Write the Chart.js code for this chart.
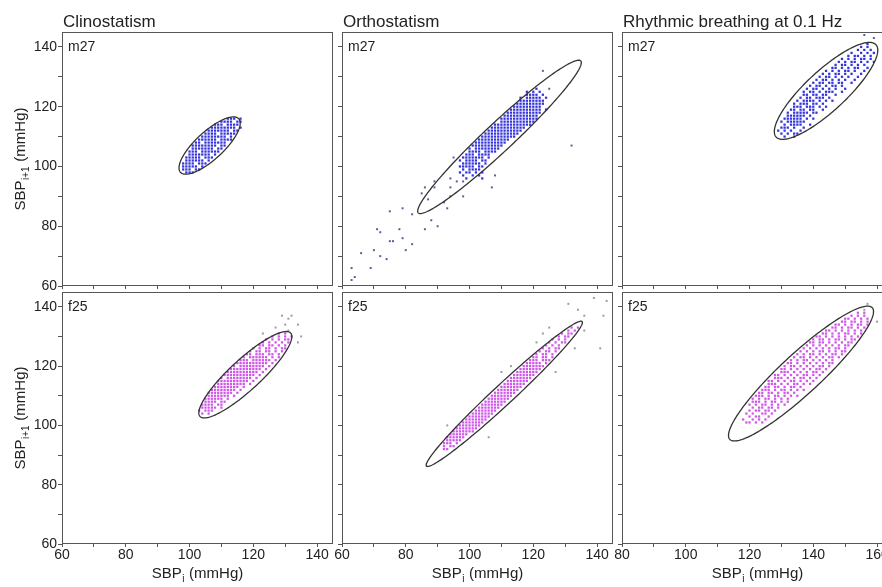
<!DOCTYPE html>
<html>
<head>
<meta charset="utf-8">
<script src="https://cdn.jsdelivr.net/npm/chart.js@4.4.1/dist/chart.umd.min.js"></script>
<style>
  html, body { margin: 0; padding: 0; background: #fff; }
  #figure { position: relative; width: 882px; height: 587px; overflow: hidden; }
  #figure canvas { position: absolute; }
</style>
</head>
<body>
<div id="figure"></div>
<script>
// Poincare plots, SBP(i+1) against SBP(i), two subjects, three conditions.
// Rows of points: [SBP(i+1), [SBP(i) values seen on that row]]

const columnTitles = ['Clinostatism', 'Orthostatism', 'Rhythmic breathing at 0.1 Hz'];
const subjects = ['m27', 'f25'];
const xMins = [60, 60, 80];
const xMaxs = [145, 145, 165];
const yMin = 60, yMax = 145;
const xTickLabels = [[60, 80, 100, 120, 140], [60, 80, 100, 120, 140], [80, 100, 120, 140, 160]];
const yTickLabels = [60, 80, 100, 120, 140];

// m27, clinostatism
const m27Clino = [
    [98, [99, 100, 101]],
    [99, [98, 99, 100, 102, 103]],
    [100, [98, 99, 100, 101, 102, 104]],
    [101, [98, 99, 100, 101, 103, 104, 105]],
    [102, [99, 100, 101, 102, 103, 104, 106]],
    [103, [99, 100, 101, 102, 103, 105, 106, 107]],
    [104, [100, 101, 102, 103, 104, 105, 106, 108]],
    [105, [100, 101, 102, 104, 105, 106, 107, 108, 109]],
    [106, [101, 102, 103, 104, 105, 106, 107, 109, 110]],
    [107, [101, 102, 103, 104, 105, 106, 107, 108, 110, 111]],
    [108, [102, 103, 105, 106, 107, 108, 109, 110, 111]],
    [109, [103, 104, 105, 106, 107, 108, 110, 111, 112, 113]],
    [110, [104, 105, 106, 107, 108, 109, 110, 111, 113]],
    [111, [105, 106, 107, 108, 110, 111, 112, 113, 114]],
    [112, [106, 107, 108, 109, 110, 111, 112, 114, 115]],
    [113, [107, 108, 109, 110, 111, 112, 113, 114, 116]],
    [114, [108, 109, 110, 112, 113, 114, 115]],
    [115, [110, 111, 112, 113, 115, 116]],
    [116, [112, 113, 114, 116]]
];
const m27ClinoOut = [];

// m27, orthostatism
const m27Ortho = [
    [96, [99, 104]],
    [97, [98, 101, 103]],
    [98, [97, 99, 100, 102, 104]],
    [99, [98, 100, 101, 102, 103]],
    [100, [97, 98, 99, 100, 101, 103, 104]],
    [101, [98, 99, 100, 101, 102, 103, 105]],
    [102, [97, 99, 100, 101, 102, 104, 105]],
    [103, [98, 99, 100, 101, 102, 103, 104, 106]],
    [104, [99, 100, 101, 103, 104, 105, 106]],
    [105, [100, 101, 102, 103, 105, 106, 107, 108]],
    [106, [100, 102, 103, 104, 105, 106, 107, 108, 109]],
    [107, [101, 102, 103, 104, 105, 106, 107, 108, 109, 110]],
    [108, [102, 103, 104, 105, 106, 107, 108, 109, 110, 111]],
    [109, [103, 104, 105, 106, 107, 108, 109, 110, 111, 112]],
    [110, [104, 105, 106, 107, 108, 109, 110, 111, 112, 113, 114]],
    [111, [105, 106, 107, 108, 109, 110, 111, 112, 113, 114, 115]],
    [112, [106, 107, 108, 109, 110, 111, 112, 113, 114, 115, 116]],
    [113, [107, 108, 109, 110, 111, 112, 113, 114, 115, 116, 117]],
    [114, [108, 109, 110, 111, 112, 113, 114, 115, 116, 117, 118, 119]],
    [115, [110, 111, 112, 113, 114, 115, 116, 117, 118, 119, 120]],
    [116, [110, 111, 112, 113, 114, 115, 116, 117, 118, 119, 120, 121]],
    [117, [111, 112, 113, 114, 115, 116, 117, 118, 119, 120, 121]],
    [118, [112, 113, 114, 115, 116, 117, 118, 119, 120, 121, 122]],
    [119, [113, 114, 115, 116, 117, 118, 119, 120, 121, 122, 124]],
    [120, [114, 115, 116, 117, 118, 119, 120, 121, 122]],
    [121, [115, 116, 117, 118, 119, 120, 121, 122, 123]],
    [122, [116, 117, 118, 119, 120, 121, 122, 123]],
    [123, [116, 118, 119, 120, 121, 122, 124]],
    [124, [118, 119, 120, 121, 123]],
    [125, [118, 120, 122]],
    [126, [121]]
];
// the scattered beats, mostly down the lower left
const m27OrthoOut = [
    [63, 66], [64, 63], [63, 62], [66, 71], [69, 66], [70, 72], [71, 79], [72, 78], [72, 70],
    [74, 69], [75, 85], [75, 75], [76, 75], [78, 79], [79, 86], [79, 76], [80, 72], [82, 84],
    [82, 74], [85, 91], [86, 79], [87, 89], [88, 82], [86, 93], [89, 93], [90, 80], [92, 88],
    [93, 86], [94, 93], [94, 90], [95, 103], [96, 95], [98, 90], [98, 95], [107, 93], [108, 97],
    [89, 95], [94, 96], [123, 132], [125, 126], [132, 107], [124, 119]
];

// m27, rhythmic breathing
const m27Rhythm = [
    [110, [131, 134]],
    [111, [130, 132, 134, 135]],
    [112, [129, 131, 133, 136]],
    [113, [130, 131, 132, 134, 137]],
    [114, [131, 133, 134, 135, 136, 139]],
    [115, [130, 132, 133, 134, 135, 136, 137]],
    [116, [131, 132, 133, 134, 135, 136, 138, 140]],
    [117, [132, 133, 134, 135, 136, 137, 139]],
    [118, [132, 134, 135, 136, 137, 138, 140, 141]],
    [119, [133, 134, 136, 137, 139, 140, 143]],
    [120, [134, 135, 136, 138, 139, 140, 142, 144]],
    [121, [134, 136, 137, 138, 140, 141, 143]],
    [122, [135, 137, 138, 139, 140, 142, 144, 146]],
    [123, [136, 138, 139, 141, 142, 143, 145]],
    [124, [137, 138, 140, 141, 143, 144, 147]],
    [125, [137, 139, 140, 142, 144, 145, 146, 149]],
    [126, [138, 140, 141, 143, 145, 147, 150]],
    [127, [139, 141, 142, 144, 146, 147, 149]],
    [128, [140, 142, 143, 145, 146, 148, 149, 152]],
    [129, [141, 143, 144, 146, 148, 150, 153]],
    [130, [142, 144, 145, 147, 149, 151, 154]],
    [131, [143, 145, 147, 148, 150, 152, 155]],
    [132, [144, 146, 148, 150, 151, 153, 156]],
    [133, [146, 147, 149, 151, 153, 154, 157]],
    [134, [147, 149, 150, 152, 154, 156]],
    [135, [148, 150, 152, 153, 155, 157, 159]],
    [136, [149, 151, 153, 155, 156, 158]],
    [137, [151, 153, 154, 156, 158]],
    [138, [152, 155, 157, 159]],
    [139, [154, 156, 158]],
    [140, [155, 157]],
    [141, [157]]
];
const m27RhythmOut = [[156, 144], [159, 143]];

// f25, clinostatism
const f25Clino = [
    [104, [104, 106]],
    [105, [103, 105, 106, 107]],
    [106, [104, 105, 106, 107, 108, 110]],
    [107, [104, 105, 106, 107, 109, 110]],
    [108, [105, 106, 107, 108, 110, 111]],
    [109, [105, 106, 107, 108, 109, 110, 112]],
    [110, [106, 107, 108, 109, 110, 111, 112, 114]],
    [111, [106, 107, 108, 109, 110, 111, 112, 113, 115]],
    [112, [107, 108, 109, 110, 111, 112, 113, 114, 116]],
    [113, [108, 109, 110, 111, 112, 113, 114, 115, 117]],
    [114, [109, 110, 111, 112, 113, 114, 115, 116, 117, 119]],
    [115, [109, 110, 111, 112, 113, 114, 115, 116, 117, 118, 120]],
    [116, [110, 112, 113, 114, 115, 116, 117, 118, 119, 121]],
    [117, [111, 112, 113, 114, 115, 116, 117, 118, 119, 120, 122]],
    [118, [112, 113, 114, 115, 116, 117, 118, 119, 120, 121, 123]],
    [119, [113, 114, 115, 116, 117, 118, 119, 120, 121, 122, 124]],
    [120, [114, 116, 117, 118, 119, 120, 121, 122, 123, 125]],
    [121, [115, 116, 117, 118, 119, 120, 121, 122, 123, 124, 126]],
    [122, [116, 117, 118, 120, 121, 122, 123, 124, 125, 127]],
    [123, [117, 119, 120, 121, 122, 123, 124, 126, 128]],
    [124, [118, 119, 121, 122, 123, 125, 126, 128]],
    [125, [119, 121, 122, 124, 125, 127, 129]],
    [126, [120, 122, 124, 125, 127, 129, 130]],
    [127, [122, 123, 125, 126, 128, 130]],
    [128, [123, 125, 127, 129, 131]],
    [129, [124, 126, 128, 130, 131]],
    [130, [126, 128, 130, 132]],
    [131, [128, 130]]
];
const f25ClinoOut = [
    [129, 137], [131, 136], [132, 137], [134, 134], [135, 130], [134, 128],
    [131, 132], [130, 134], [127, 133], [123, 131]
];

// f25, orthostatism
const f25Ortho = [
    [92, [92, 93]],
    [93, [92, 94, 95]],
    [94, [92, 93, 94, 96]],
    [95, [93, 94, 95, 96, 97]],
    [96, [93, 94, 95, 96, 97, 98]],
    [97, [94, 95, 96, 97, 98, 99]],
    [98, [95, 96, 97, 98, 99, 100, 101]],
    [99, [96, 97, 98, 99, 100, 101, 102]],
    [100, [97, 98, 99, 100, 101, 102, 103]],
    [101, [98, 99, 100, 101, 102, 103, 104]],
    [102, [99, 100, 101, 102, 103, 104, 105]],
    [103, [100, 101, 102, 103, 104, 105, 106]],
    [104, [101, 102, 103, 104, 105, 106, 107]],
    [105, [102, 103, 104, 105, 106, 107, 108]],
    [106, [103, 104, 105, 106, 107, 108, 109]],
    [107, [104, 105, 106, 107, 108, 109, 110]],
    [108, [105, 106, 107, 108, 109, 110, 111]],
    [109, [106, 107, 108, 109, 110, 111, 112]],
    [110, [107, 108, 109, 110, 111, 112, 113]],
    [111, [108, 109, 110, 111, 112, 113, 114]],
    [112, [109, 110, 111, 112, 113, 114, 115]],
    [113, [110, 111, 112, 113, 114, 115, 116]],
    [114, [111, 112, 113, 114, 115, 116, 117]],
    [115, [112, 113, 114, 115, 116, 117, 118]],
    [116, [113, 114, 115, 116, 117, 118, 119]],
    [117, [114, 115, 116, 117, 118, 119, 120]],
    [118, [115, 116, 117, 118, 119, 120, 121]],
    [119, [116, 117, 118, 119, 120, 121, 122]],
    [120, [117, 118, 119, 120, 121, 122, 123]],
    [121, [118, 119, 120, 121, 122, 124]],
    [122, [119, 120, 121, 123, 124, 125]],
    [123, [120, 121, 123, 124, 126]],
    [124, [121, 123, 124, 126]],
    [125, [122, 124, 125, 127]],
    [126, [123, 125, 127, 128]],
    [127, [124, 126, 128]],
    [128, [125, 127, 129, 130]],
    [129, [126, 128, 130]],
    [130, [128, 130, 131]],
    [131, [129, 131, 132]],
    [132, [131, 133]],
    [133, [132, 134]]
];
const f25OrthoOut = [
    [139, 143], [143, 142], [131, 141], [134, 139], [136, 137], [142, 137], [141, 126],
    [136, 132], [133, 126], [123, 131], [125, 133], [127, 118], [121, 128], [113, 120],
    [110, 118], [106, 96], [93, 100]
];

// f25, rhythmic breathing
const f25Rhythm = [
    [101, [119, 120, 122, 124]],
    [102, [118, 121, 123, 125]],
    [103, [120, 122, 123, 126]],
    [104, [119, 121, 124, 125, 127]],
    [105, [120, 122, 123, 125, 126, 128]],
    [106, [121, 123, 124, 126, 127, 129]],
    [107, [120, 122, 124, 125, 127, 129, 131]],
    [108, [121, 122, 123, 125, 127, 128, 130, 132]],
    [109, [121, 123, 125, 126, 128, 130, 132]],
    [110, [122, 123, 124, 126, 128, 129, 131, 133, 135]],
    [111, [123, 124, 126, 127, 129, 131, 132, 134]],
    [112, [124, 125, 126, 128, 130, 131, 133, 135, 137]],
    [113, [125, 126, 128, 129, 131, 133, 134, 136]],
    [114, [126, 127, 128, 130, 132, 134, 135, 137, 139]],
    [115, [126, 127, 129, 131, 133, 134, 136, 138, 140]],
    [116, [128, 129, 130, 132, 134, 136, 137, 139, 141]],
    [117, [128, 129, 131, 133, 135, 137, 138, 140, 142]],
    [118, [130, 131, 132, 134, 136, 138, 140, 141, 143]],
    [119, [130, 131, 133, 135, 137, 139, 141, 142, 144]],
    [120, [131, 133, 134, 136, 138, 140, 142, 143, 145]],
    [121, [132, 133, 135, 137, 139, 141, 143, 145, 146]],
    [122, [133, 135, 137, 138, 140, 142, 144, 146]],
    [123, [134, 136, 137, 139, 141, 143, 145, 146, 148]],
    [124, [135, 137, 139, 140, 142, 144, 146, 147, 149]],
    [125, [136, 138, 140, 142, 143, 145, 147, 149, 150]],
    [126, [137, 139, 141, 143, 145, 147, 148, 150]],
    [127, [138, 140, 142, 144, 146, 148, 150, 151]],
    [128, [139, 140, 142, 143, 145, 147, 149, 151, 152]],
    [129, [140, 142, 143, 145, 147, 148, 150, 152, 153]],
    [130, [141, 142, 144, 146, 148, 150, 152, 154]],
    [131, [143, 144, 146, 148, 150, 151, 153, 155]],
    [132, [144, 145, 147, 149, 151, 153, 155]],
    [133, [146, 147, 149, 151, 152, 154, 156]],
    [134, [147, 148, 150, 152, 154, 155, 157]],
    [135, [149, 150, 152, 153, 155, 157]],
    [136, [150, 151, 153, 155, 157]],
    [137, [152, 154, 156]],
    [138, [154, 156]]
];
const f25RhythmOut = [[157, 141], [160, 135], [156, 139]];

// fitted ellipses: centre x, centre y, half length along the identity line, half width across it
const ellipseM27 = [[106.3, 107, 12.8, 4.5], [109.4, 109.9, 36, 4.6], [144, 125.3, 22, 6.5]];
const ellipseF25 = [[117.5, 117.1, 20, 5], [110.9, 110.65, 34.5, 3.3], [136.15, 117.5, 31.5, 6.5]];

const rowPoints = [[m27Clino, m27Ortho, m27Rhythm], [f25Clino, f25Ortho, f25Rhythm]];
const rowOutliers = [[m27ClinoOut, m27OrthoOut, m27RhythmOut], [f25ClinoOut, f25OrthoOut, f25RhythmOut]];
const rowEllipses = [ellipseM27, ellipseF25];
const rowColors = ['#3434dc', '#cf58e8'];
const rowOutColors = ['#5a5a9a', '#9a9aa4'];

// page layout of the six boxes
const boxLefts = [62, 342, 622];
const boxWidth = 271;
const boxTops = [32, 292];
const boxHeights = [254, 252];

const FONT = "'Liberation Sans', Arial, sans-serif";
const INK = '#222';
const FRAME = '#555';

function toXY(rows)
{
    return rows.flatMap(([y, xs]) => xs.map(x => ({x: x, y: y})));
}

// Draws "SBP" with a lowered subscript, then " (mmHg)", centred on x
function drawSubLabel(ctx, sub, cx, baseY)
{
    const big = `15px ${FONT}`, small = `10px ${FONT}`;
    ctx.font = big;
    const w1 = ctx.measureText('SBP').width;
    const w3 = ctx.measureText(' (mmHg)').width;
    ctx.font = small;
    const w2 = ctx.measureText(sub).width + 1;
    let x = cx - (w1 + w2 + w3) / 2;
    ctx.textAlign = 'left';
    ctx.textBaseline = 'alphabetic';
    ctx.font = big;
    ctx.fillText('SBP', x, baseY);
    ctx.font = small;
    ctx.fillText(sub, x + w1 + 0.5, baseY + 4);
    ctx.font = big;
    ctx.fillText(' (mmHg)', x + w1 + w2, baseY);
}

const panelDecor = {
    id: 'panelDecor',
    afterDatasetsDraw(chart, args, opts)
    {
        const ctx = chart.ctx, a = chart.chartArea;
        const sx = chart.scales.x, sy = chart.scales.y;
        const [cx, cy, ha, hb] = opts.ellipse;

        // ellipse, in data units, rotated onto the line of identity
        ctx.save();
        ctx.beginPath();
        ctx.rect(a.left, a.top, a.right - a.left, a.bottom - a.top);
        ctx.clip();
        ctx.beginPath();
        for (let k = 0; k <= 200; k++)
        {
            const t = k / 200 * 2 * Math.PI;
            const u = ha * Math.cos(t), v = hb * Math.sin(t);
            const px = sx.getPixelForValue(cx + (u - v) * Math.SQRT1_2);
            const py = sy.getPixelForValue(cy + (u + v) * Math.SQRT1_2);
            if (k === 0) ctx.moveTo(px, py); else ctx.lineTo(px, py);
        }
        ctx.strokeStyle = '#333';
        ctx.lineWidth = 1.3;
        ctx.stroke();
        ctx.restore();

        // frame
        ctx.save();
        ctx.strokeStyle = FRAME;
        ctx.lineWidth = 1;
        ctx.strokeRect(Math.round(a.left) + 0.5, Math.round(a.top) + 0.5,
            Math.round(a.right - a.left) - 1, Math.round(a.bottom - a.top) - 1);

        ctx.fillStyle = INK;
        ctx.textAlign = 'left';
        ctx.textBaseline = 'alphabetic';
        ctx.font = `14px ${FONT}`;
        ctx.fillText(opts.subject, a.left + 6, a.top + 19);

        if (opts.title)
        {
            ctx.font = `17px ${FONT}`;
            ctx.fillText(opts.title, a.left + 1, a.top - 5);
        }
        if (opts.xTitle)
        {
            drawSubLabel(ctx, 'i', (a.left + a.right) / 2, a.bottom + 34);
        }
        if (opts.yTitle)
        {
            ctx.save();
            ctx.translate(a.left - 37, (a.top + a.bottom) / 2);
            ctx.rotate(-Math.PI / 2);
            drawSubLabel(ctx, 'i+1', 0, 0);
            ctx.restore();
        }
        ctx.restore();
    }
};

function CreatePanel(row, col)
{
    const L = col === 0 ? 62 : 20, R = 14;
    const T = row === 0 ? 32 : 10, B = row === 0 ? 10 : 40;
    const W = boxWidth, H = boxHeights[row];

    const canvas = document.createElement('canvas');
    canvas.width = W + L + R;
    canvas.height = H + T + B;
    canvas.style.left = (boxLefts[col] - L) + 'px';
    canvas.style.top = (boxTops[row] - T) + 'px';
    document.getElementById('figure').appendChild(canvas);

    const showX = row === 1, showY = col === 0;
    const xMax = xMaxs[col];

    new Chart(canvas.getContext('2d'),
    {
        type: 'scatter',
        data: {
            datasets: [{
                data: toXY(rowPoints[row][col]),
                backgroundColor: rowColors[row],
                borderWidth: 0,
                pointStyle: 'rect',
                pointRadius: 1.6
            }, {
                data: rowOutliers[row][col].map(([x, y]) => ({x: x, y: y})),
                backgroundColor: rowOutColors[row],
                borderWidth: 0,
                pointStyle: 'rect',
                pointRadius: 1.4
            }]
        },
        options: {
            responsive: false,
            animation: false,
            devicePixelRatio: 1,
            events: [],
            layout: { padding: { top: T, right: R, left: 0, bottom: 0 } },
            plugins: {
                legend: { display: false },
                tooltip: { enabled: false },
                panelDecor: {
                    ellipse: rowEllipses[row][col],
                    subject: subjects[row],
                    title: row === 0 ? columnTitles[col] : null,
                    xTitle: showX,
                    yTitle: showY
                }
            },
            scales: {
                x: {
                    type: 'linear',
                    min: xMins[col],
                    max: xMax,
                    afterBuildTicks: s => { s.ticks = s.ticks.filter(t => t.value % 10 === 0 && t.value <= xMax); },
                    afterFit: s => { s.height = B; },
                    ticks: {
                        stepSize: 10,
                        includeBounds: false,
                        autoSkip: false,
                        maxRotation: 0,
                        padding: 0,
                        color: INK,
                        font: { family: FONT, size: 14 },
                        callback: v => (showX && xTickLabels[col].includes(v)) ? String(v) : ''
                    },
                    grid: { drawOnChartArea: false, drawTicks: true, tickLength: 3, color: FRAME },
                    border: { display: false }
                },
                y: {
                    type: 'linear',
                    min: yMin,
                    max: yMax,
                    afterBuildTicks: s => { s.ticks = s.ticks.filter(t => t.value % 10 === 0 && t.value <= yMax); },
                    afterFit: s => { s.width = L; },
                    ticks: {
                        stepSize: 10,
                        includeBounds: false,
                        autoSkip: false,
                        padding: 1,
                        color: INK,
                        font: { family: FONT, size: 14 },
                        callback: v => (showY && yTickLabels.includes(v)) ? String(v) : ''
                    },
                    grid: { drawOnChartArea: false, drawTicks: true, tickLength: 4, color: FRAME },
                    border: { display: false }
                }
            }
        },
        plugins: [panelDecor]
    });
}

for (let row = 0; row < 2; row++)
{
    for (let col = 0; col < 3; col++)
    {
        CreatePanel(row, col);
    }
}
</script>
</body>
</html>
